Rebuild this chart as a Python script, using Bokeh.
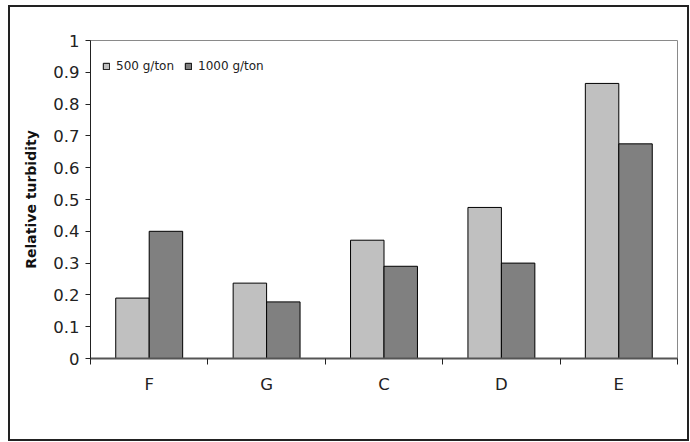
from bokeh.plotting import figure
from bokeh.models import ColumnDataSource, FixedTicker, Legend, LegendItem, Range1d, InlineStyleSheet
from bokeh.embed import file_html
from bokeh.resources import INLINE

categories = ["F", "G", "C", "D", "E"]
vals_500 = [0.19, 0.237, 0.372, 0.475, 0.865]
vals_1000 = [0.40, 0.178, 0.29, 0.30, 0.675]
series_names = ["500 g/ton", "1000 g/ton"]
y_ticks = [0, 0.1, 0.2, 0.3, 0.4, 0.5, 0.6, 0.7, 0.8, 0.9, 1.0]
y_tick_labels = ["0", "0.1", "0.2", "0.3", "0.4", "0.5", "0.6", "0.7", "0.8", "0.9", "1"]

FONT = "DejaVu Sans"
bar_w = 0.285
centers = [i + 0.5 for i in range(len(categories))]

src = ColumnDataSource(dict(
    x500=[c - bar_w / 2 for c in centers],
    x1000=[c + bar_w / 2 for c in centers],
    v500=vals_500,
    v1000=vals_1000,
))

frame_css = InlineStyleSheet(css="""
:host { position: relative; }
:host::after {
  content: "";
  position: absolute;
  left: 8px; top: 5px; width: 681px; height: 436px;
  border: 2px solid #222222;
  box-sizing: border-box;
  pointer-events: none;
}
""")

p = figure(width=690, height=442, output_backend="svg", toolbar_location=None,
           x_range=Range1d(0, len(categories)), y_range=Range1d(0, 1),
           min_border_left=90, min_border_right=13, min_border_top=40, min_border_bottom=84,
           stylesheets=[frame_css])
p.grid.visible = False
p.outline_line_color = "#8a8a8a"
p.outline_line_width = 1
p.background_fill_color = "white"
p.border_fill_color = "white"

r1 = p.vbar(x="x500", top="v500", width=bar_w, source=src, fill_color="#c0c0c0", line_color="black", line_width=1)
r2 = p.vbar(x="x1000", top="v1000", width=bar_w, source=src, fill_color="#808080", line_color="black", line_width=1)

# y axis
p.yaxis.ticker = FixedTicker(ticks=y_ticks)
p.yaxis.major_label_overrides = {t: l for t, l in zip(y_ticks, y_tick_labels)}
p.yaxis.minor_tick_line_color = None
p.yaxis.major_tick_in = 0
p.yaxis.major_tick_out = 5
p.yaxis.major_label_standoff = 6
p.yaxis.axis_line_color = "#222222"
p.yaxis.major_tick_line_color = "#222222"
p.yaxis.major_label_text_font = FONT
p.yaxis.major_label_text_font_size = "16.5px"
p.yaxis.major_label_text_color = "#222222"
p.yaxis.axis_label = "Relative turbidity"
p.yaxis.axis_label_text_font = FONT
p.yaxis.axis_label_text_font_style = "bold"
p.yaxis.axis_label_text_font_size = "14px"
p.yaxis.axis_label_text_color = "#111111"
p.yaxis.axis_label_standoff = 11

# x axis
p.xaxis.ticker = FixedTicker(ticks=centers, minor_ticks=list(range(len(categories) + 1)))
p.xaxis.major_label_overrides = {c: l for c, l in zip(centers, categories)}
p.xaxis.major_tick_line_color = None
p.xaxis.major_tick_in = 0
p.xaxis.major_tick_out = 0
p.xaxis.minor_tick_in = 0
p.xaxis.minor_tick_out = 6
p.xaxis.minor_tick_line_color = "#222222"
p.xaxis.axis_line_color = "#555555"
p.xaxis.axis_line_width = 2
p.xaxis.major_label_standoff = 10
p.xaxis.major_label_text_font = FONT
p.xaxis.major_label_text_font_size = "16.5px"
p.xaxis.major_label_text_color = "#222222"

legend = Legend(items=[LegendItem(label=series_names[0], renderers=[r1]),
                       LegendItem(label=series_names[1], renderers=[r2])],
                orientation="horizontal", location=(12, 285),
                border_line_color=None, background_fill_alpha=0,
                glyph_width=8, glyph_height=8, label_text_font=FONT,
                label_text_font_size="12px", label_text_color="#222222",
                label_standoff=6, spacing=10,
                padding=0, margin=0, label_height=12)
p.add_layout(legend, "center")

open("out.html", "w").write(file_html(p, INLINE))
